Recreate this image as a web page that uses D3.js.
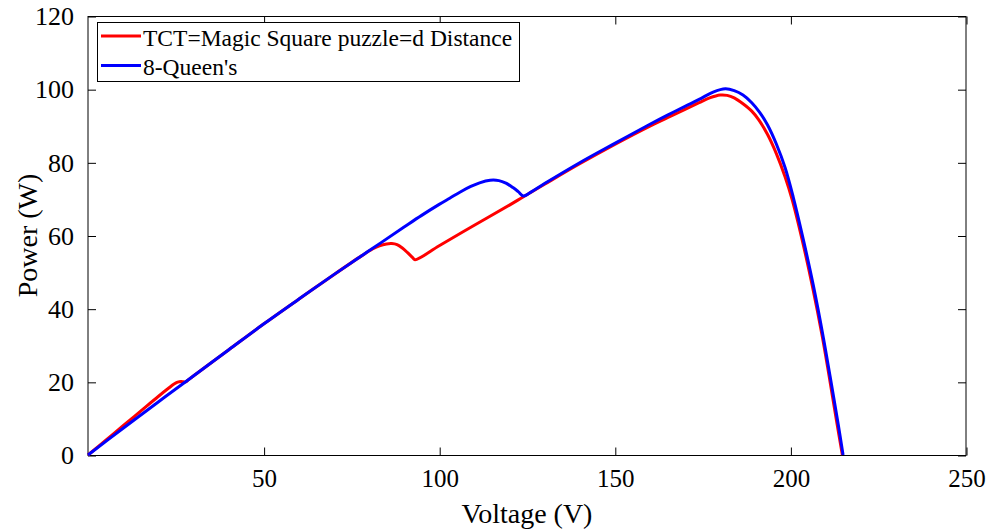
<!DOCTYPE html>
<html>
<head>
<meta charset="utf-8">
<script src="https://cdn.jsdelivr.net/npm/d3@7"></script>
<style>
  html, body { margin: 0; padding: 0; background: #fff; }
  svg { display: block; }
  text { font-family: "Liberation Serif", "Times New Roman", serif; fill: #000; }
</style>
</head>
<body>
<svg id="chart" width="992" height="530"></svg>
<script>
// P-V characteristics for two array configurations
const seriesNames = ["TCT=Magic Square puzzle=d Distance", "8-Queen's"];
const seriesColors = ["#ff0000", "#0000ff"];

const tctVoltage = [0, 5, 10, 15, 20, 23, 24.5, 25.5, 26.5, 27.2, 27.8, 28.5, 30, 40, 50, 60, 70, 78,
  81, 83, 85, 86.5, 88, 89.5, 91, 92.3, 93.1, 100, 110, 120, 124, 130, 140, 150, 160, 165, 170, 174, 177,
  180, 182, 184, 186.5, 189, 191, 193.5, 196, 198.5, 200.5, 203.3, 206.2, 209, 211, 213.3, 214.8];
const tctPower = [0, 4.0, 8.0, 12.0, 16.0, 18.3, 19.4, 19.9, 20.1, 20.0, 20.0, 20.5, 21.6, 28.7, 35.8, 42.6, 49.3, 54.5,
  56.3, 57.2, 57.7, 57.8, 57.5, 56.6, 55.3, 54.1, 53.4, 57.2, 62.8, 68.3, 70.6, 74.0, 79.6, 84.9, 89.9, 92.2, 94.5, 96.3, 97.6,
  98.4, 98.3, 97.6, 96.0, 94.0, 91.6, 87.6, 82.4, 76.0, 69.8, 59.0, 46.4, 32.8, 21.7, 8.4, 0];

const queenVoltage = [0, 10, 20, 27.5, 30, 40, 50, 60, 70, 80, 90, 95, 100, 103, 106, 109, 111.5, 114.5, 117,
  119, 121, 122.5, 124, 126, 130, 140, 150, 160, 165, 170, 174, 178, 181.5, 184, 186.5, 189, 191.3,
  193.5, 196, 198.5, 200.8, 203.7, 206.5, 209.4, 211.3, 213.6, 215];
const queenPower = [0, 7.3, 14.5, 19.8, 21.6, 28.7, 35.8, 42.6, 49.3, 55.8, 62.3, 65.5, 68.5, 70.2, 71.9, 73.4, 74.4, 75.1, 75.0,
  74.3, 73.1, 72.0, 70.8, 71.8, 74.2, 79.9, 85.2, 90.4, 92.9, 95.3, 97.2, 99.2, 100.1, 99.6, 98.4, 96.3, 93.6,
  90.2, 85.0, 78.5, 70.5, 58.8, 46.5, 32.0, 21.5, 8.5, 0];

const xTicks = [50, 100, 150, 200, 250];
const yTicks = [0, 20, 40, 60, 80, 100, 120];

const svg = d3.select("#chart");
const plotLeft = 88, plotRight = 966, plotTop = 16, plotBottom = 455;

const x = d3.scaleLinear().domain([0, 250]).range([plotLeft, plotRight]);
const y = d3.scaleLinear().domain([0, 120]).range([plotBottom, plotTop]);

// axes box (left/right edges sit on whole pixels, top/bottom on half pixels)
const box = svg.append("g").attr("stroke", "#000").attr("stroke-width", 1);
box.append("line").attr("x1", plotLeft).attr("x2", plotRight).attr("y1", plotBottom + 0.5).attr("y2", plotBottom + 0.5);
box.append("line").attr("x1", plotLeft).attr("x2", plotRight).attr("y1", plotTop + 0.5).attr("y2", plotTop + 0.5);
box.append("line").attr("x1", plotLeft).attr("x2", plotLeft).attr("y1", plotTop).attr("y2", plotBottom + 1);
box.append("line").attr("x1", plotRight).attr("x2", plotRight).attr("y1", plotTop).attr("y2", plotBottom + 1);

const tickLen = 8;
const fmt = d3.format("d");

// bottom and top axes, ticks pointing inward
const xBottom = d3.axisBottom(x).tickValues(xTicks).tickSizeInner(-tickLen).tickSizeOuter(0).tickPadding(14).tickFormat(fmt);
const gxb = svg.append("g").attr("transform", `translate(0.5,${plotBottom + 0.5})`).call(xBottom);
const xTop = d3.axisTop(x).tickValues(xTicks).tickSizeInner(-tickLen).tickSizeOuter(0).tickFormat("");
const gxt = svg.append("g").attr("transform", `translate(0.5,${plotTop + 0.5})`).call(xTop);

// left and right axes
const yLeft = d3.axisLeft(y).tickValues(yTicks).tickSizeInner(-tickLen).tickSizeOuter(0).tickPadding(14).tickFormat(fmt);
const gyl = svg.append("g").attr("transform", `translate(${plotLeft},0.5)`).call(yLeft);
const yRight = d3.axisRight(y).tickValues(yTicks).tickSizeInner(-tickLen).tickSizeOuter(0).tickFormat("");
const gyr = svg.append("g").attr("transform", `translate(${plotRight},0.5)`).call(yRight);

[gxb, gxt, gyl, gyr].forEach(g => {
  g.select(".domain").remove();
  g.selectAll(".tick line").attr("stroke", "#000");
  g.selectAll(".tick text").attr("font-family", "Liberation Serif").attr("fill", "#000");
});
gxb.selectAll(".tick text").attr("font-size", 25);
gyl.selectAll(".tick text").attr("font-size", 26);

// axis titles
svg.append("text").attr("x", (plotLeft + plotRight) / 2).attr("y", 523)
  .attr("text-anchor", "middle").attr("font-size", 28).text("Voltage (V)");
svg.append("text").attr("transform", `translate(37,${(plotTop + plotBottom) / 2}) rotate(-90)`)
  .attr("text-anchor", "middle").attr("font-size", 28).text("Power (W)");

// curves, smoothed through the sampled points
const line = d3.line().curve(d3.curveCatmullRom.alpha(0.5)).x(d => x(d[0])).y(d => y(d[1]));
const tctData = d3.zip(tctVoltage, tctPower);
const queenData = d3.zip(queenVoltage, queenPower);

const plot = svg.append("g");
plot.append("path").datum(tctData).attr("d", line)
  .attr("fill", "none").attr("stroke", seriesColors[0]).attr("stroke-width", 3).attr("stroke-linejoin", "round");
plot.append("path").datum(queenData).attr("d", line)
  .attr("fill", "none").attr("stroke", seriesColors[1]).attr("stroke-width", 3).attr("stroke-linejoin", "round");

// legend
const legend = svg.append("g");
legend.append("rect").attr("x", 97.5).attr("y", 22.5).attr("width", 422).attr("height", 59)
  .attr("fill", "#fff").attr("stroke", "#000").attr("stroke-width", 1);
seriesNames.forEach((name, i) => {
  const cy = 36 + i * 29.5;
  legend.append("line").attr("x1", 101).attr("x2", 141).attr("y1", cy).attr("y2", cy)
    .attr("stroke", seriesColors[i]).attr("stroke-width", 3);
  legend.append("text").attr("x", 143).attr("y", cy + 9.5).attr("font-size", 23.5).text(name);
});
</script>
</body>
</html>
